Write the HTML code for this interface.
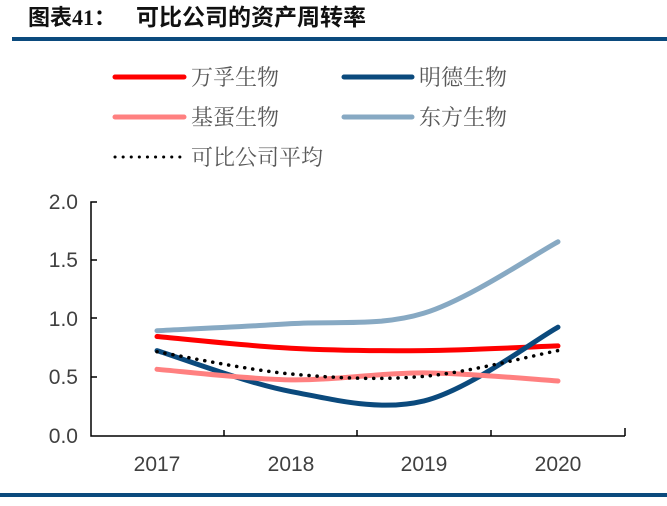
<!DOCTYPE html>
<html><head><meta charset="utf-8"><style>
body{margin:0;background:#fff;width:667px;height:501px;overflow:hidden;font-family:"Liberation Sans","Noto Sans CJK SC",sans-serif}
</style></head><body>
<svg width="667" height="501" viewBox="0 0 667 501" xmlns="http://www.w3.org/2000/svg">
<text x="28" y="25" font-size="22" font-weight="bold" fill="#111" font-family="'Noto Sans CJK SC',sans-serif">图表<tspan font-family="'Liberation Serif',serif">41</tspan>：</text>
<text x="136" y="25" font-size="23" font-weight="bold" fill="#111" font-family="'Noto Sans CJK SC',sans-serif">可比公司的资产周转率</text>
<rect x="12" y="37" width="655" height="4" fill="#0b4a7d"/>
<rect x="0" y="493" width="667" height="4" fill="#0b4a7d"/>
<g font-size="22" fill="#595959" font-family="'Noto Serif CJK SC',serif">
<line x1="115" y1="77" x2="184" y2="77" stroke="#ff0000" stroke-width="5" stroke-linecap="round"/>
<text x="191" y="85">万孚生物</text>
<line x1="344" y1="77" x2="412" y2="77" stroke="#0b4a7d" stroke-width="5" stroke-linecap="round"/>
<text x="419" y="85">明德生物</text>
<line x1="115" y1="117" x2="184" y2="117" stroke="#ff8080" stroke-width="5" stroke-linecap="round"/>
<text x="191" y="125">基蛋生物</text>
<line x1="344" y1="117" x2="412" y2="117" stroke="#87a9c3" stroke-width="5" stroke-linecap="round"/>
<text x="419" y="125">东方生物</text>
<line x1="115" y1="157" x2="184" y2="157" stroke="#000" stroke-width="3" stroke-dasharray="0.1 8" stroke-linecap="round"/>
<text x="191" y="165">可比公司平均</text>
</g>
<g font-size="21" fill="#404040" text-anchor="end">
<text x="78" y="209">2.0</text><text x="78" y="267">1.5</text><text x="78" y="326">1.0</text><text x="78" y="384">0.5</text><text x="78" y="443">0.0</text>
</g>
<g font-size="21" fill="#404040" text-anchor="middle">
<text x="157" y="471">2017</text><text x="291" y="471">2018</text><text x="424" y="471">2019</text><text x="558" y="471">2020</text>
</g>
<g stroke="#000" stroke-width="1.5" fill="none">
<path d="M97 202H91V436H625"/>
<path d="M91 260H97M91 318H97M91 377H97M224 436V430M357 436V430M491 436V430M625 436V428"/>
</g>
<g id="s" fill="none" stroke-width="5" stroke-linecap="round"></g>
</svg>
<script>
var X=[157,291,424,558];
function v(y){return 436-y*117;}
function path(Y){var P=X.map(function(x,i){return [x,v(Y[i])]});var d="M"+P[0];
for(var i=0;i<3;i++){var p0=P[i-1]||P[i],p1=P[i],p2=P[i+1],p3=P[i+2]||P[i+1];
var c1=[p1[0]+(p2[0]-p0[0])/6,p1[1]+(p2[1]-p0[1])/6],c2=[p2[0]-(p3[0]-p1[0])/6,p2[1]-(p3[1]-p1[1])/6];
d+=" C"+c1+" "+c2+" "+p2;}return d;}
var S=[[[0.90,0.96,1.05,1.66],"#87a9c3",5,""],[[0.85,0.75,0.73,0.77],"#ff0000",5,""],[[0.73,0.38,0.30,0.93],"#0b4a7d",5,""],[[0.57,0.48,0.54,0.47],"#ff8080",5,""],[[0.72,0.53,0.51,0.73],"#000",3.5,"0.1 8"]];
var g=document.getElementById("s");
S.forEach(function(s){var p=document.createElementNS("http://www.w3.org/2000/svg","path");p.setAttribute("d",path(s[0]));p.setAttribute("stroke",s[1]);p.setAttribute("stroke-width",s[2]);if(s[3])p.setAttribute("stroke-dasharray",s[3]);g.appendChild(p);});
</script>
</body></html>
